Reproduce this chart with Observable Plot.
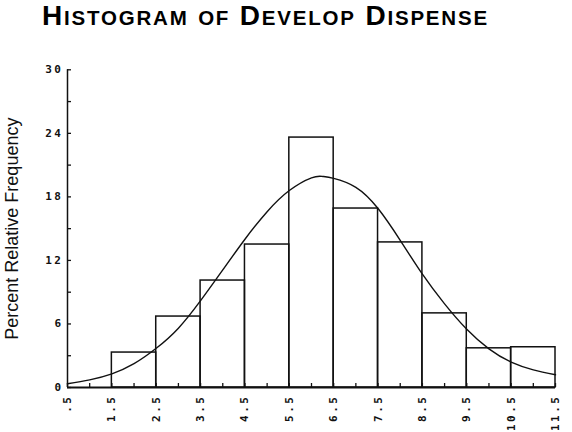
<!DOCTYPE html>
<html>
<head>
<meta charset="utf-8">
<script src="https://cdn.jsdelivr.net/npm/d3@7"></script>
<script src="https://cdn.jsdelivr.net/npm/@observablehq/plot@0.6"></script>
<style>
  html, body { margin: 0; padding: 0; background: #fff; }
  #wrap { position: relative; width: 572px; height: 432px; overflow: hidden; }
  #title {
    position: absolute; left: 42px; top: 0; height: 40px;
    font-family: "Liberation Sans", Arial, sans-serif; font-weight: bold;
    font-size: 28px; line-height: normal; letter-spacing: 1.8px;
    white-space: nowrap; color: #000;
  }
  #title .sc { font-size: 20.5px; }
  #chart { position: absolute; left: 0; top: 40px; }
</style>
</head>
<body>
<div id="wrap">
  <div id="title"></div>
  <div id="chart"></div>
</div>
<script>
// Title words (first letter large, rest in small capitals)
const titleWords = ["Histogram", "of", "Develop", "Dispense"];

// Histogram bins (lower edge, upper edge) and percent relative frequency
const binLower = [0.5, 1.5, 2.5, 3.5, 4.5, 5.5, 6.5, 7.5, 8.5, 9.5, 10.5];
const binUpper = [1.5, 2.5, 3.5, 4.5, 5.5, 6.5, 7.5, 8.5, 9.5, 10.5, 11.5];
const percents = [0, 3.3, 6.7, 10.1, 13.5, 23.6, 16.9, 13.7, 7.0, 3.7, 3.8];

// Fitted normal curve
const curveX = [0.5, 1, 1.5, 2, 2.5, 3, 3.5, 4, 4.5, 5, 5.5, 6, 6.25, 6.5, 7, 7.5, 8, 8.5, 9, 9.5, 10, 10.5, 11, 11.5];
const curveY = [0.35, 0.72, 1.29, 2.25, 3.7, 5.6, 8.2, 11.1, 14.0, 16.6, 18.6, 19.8, 19.93, 19.75, 18.9, 16.9, 13.9, 10.7, 7.9, 5.5, 3.65, 2.4, 1.67, 1.2];

// Axis ticks and labels
const xTickValues = [0.5, 1.5, 2.5, 3.5, 4.5, 5.5, 6.5, 7.5, 8.5, 9.5, 10.5, 11.5];
const xTickLabels = [".5", "1.5", "2.5", "3.5", "4.5", "5.5", "6.5", "7.5", "8.5", "9.5", "10.5", "11.5"];
const xMinorTicks = [0.5, 1, 1.5, 2, 2.5, 3, 3.5, 4, 4.5, 5, 5.5, 6, 6.5, 7, 7.5, 8, 8.5, 9, 9.5, 10, 10.5, 11, 11.5];
const yTickValues = [0, 6, 12, 18, 24, 30];
const yTickLabels = ["0", "6", "12", "18", "24", "30"];
const yMinorTicks = [0, 3, 6, 9, 12, 15, 18, 21, 24, 27, 30];
const yLabel = "Percent Relative Frequency";

// Build title
const titleEl = document.getElementById("title");
titleWords.forEach((w, i) => {
  if (i > 0) titleEl.appendChild(document.createTextNode(" "));
  const first = w[0];
  const rest = w.slice(1);
  if (first === first.toUpperCase()) {
    titleEl.appendChild(document.createTextNode(first));
    const s = document.createElement("span"); s.className = "sc"; s.textContent = rest.toUpperCase();
    titleEl.appendChild(s);
  } else {
    const s = document.createElement("span"); s.className = "sc"; s.textContent = w.toUpperCase();
    titleEl.appendChild(s);
  }
});

const bins = binLower.map((lo, i) => ({lo, hi: binUpper[i], pct: percents[i]})).filter(d => d.pct > 0);
const curve = curveX.map((x, i) => ({x, y: curveY[i]}));

const plot = Plot.plot({
  width: 572,
  height: 392,
  marginLeft: 67,
  marginRight: 17,
  marginTop: 29.3,
  marginBottom: 45,
  style: {background: "white", color: "#111"},
  x: {domain: [0.5, 11.5]},
  y: {domain: [0, 30]},
  marks: [
    Plot.rectY(bins, {x1: "lo", x2: "hi", y1: 0, y2: "pct", fill: "none", stroke: "#111", strokeWidth: 1.5}),
    Plot.line(curve, {x: "x", y: "y", curve: "natural", stroke: "#111", strokeWidth: 1.4}),
    Plot.ruleX([0.5], {y1: 0, y2: 30, stroke: "#111", strokeWidth: 1.5}),
    Plot.ruleY([0], {x1: 0.5, x2: 11.5, stroke: "#111", strokeWidth: 2.2}),
    Plot.axisX({ticks: xMinorTicks, tickSize: -4, text: null, stroke: "#111", strokeWidth: 1.3}),
    Plot.axisX({ticks: xTickValues, tickSize: 0, tickPadding: 7, tickRotate: -90,
      tickFormat: v => xTickLabels[xTickValues.indexOf(v)], className: "num",
      fontSize: 11, fill: "#111", label: null}),
    Plot.axisY({ticks: yMinorTicks, tickSize: -4, text: null, stroke: "#111", strokeWidth: 1.3}),
    Plot.axisY({ticks: yTickValues, tickSize: 0, tickPadding: 4,
      tickFormat: v => yTickLabels[yTickValues.indexOf(v)], className: "num",
      fontSize: 11, fill: "#111", label: null}),
    Plot.text([yLabel], {frameAnchor: "left", dx: -55, rotate: -90, text: d => d, textAnchor: "middle",
      fontSize: 18, fontFamily: "Liberation Sans, Arial, sans-serif", fill: "#111"})
  ]
});
document.getElementById("chart").appendChild(plot);
plot.querySelectorAll("g").forEach(g => {
  const c = g.getAttribute("class") || "";
  if (c.includes("num")) {
    g.querySelectorAll("text").forEach(t => {
      t.style.fontFamily = '"DejaVu Sans Mono", monospace';
      t.style.fontWeight = "bold";
      t.style.letterSpacing = "2.5px";
    });
  }
});
</script>
</body>
</html>
